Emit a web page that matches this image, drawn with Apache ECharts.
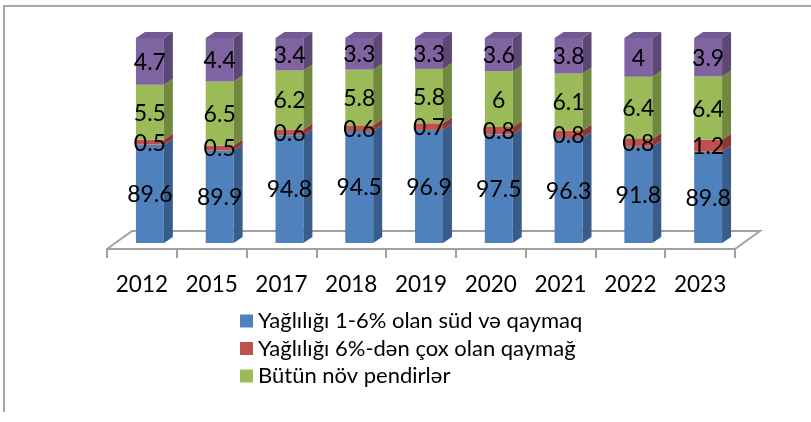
<!DOCTYPE html>
<html>
<head>
<meta charset="utf-8">
<script src="https://cdn.jsdelivr.net/npm/echarts@6/dist/echarts.min.js"></script>
<style>
  html, body { margin: 0; padding: 0; background: #fff; }
  #main { width: 811px; height: 422px; }
</style>
</head>
<body>
<div id="main"></div>
<script>
/* kateqoriyalar və seriyalar */
var years = ['2012', '2015', '2017', '2018', '2019', '2020', '2021', '2022', '2023'];
var milkCream = [89.6, 89.9, 94.8, 94.5, 96.9, 97.5, 96.3, 91.8, 89.8];
var fatCream = [0.5, 0.5, 0.6, 0.6, 0.7, 0.8, 0.8, 0.8, 1.2];
var cheese = [5.5, 6.5, 6.2, 5.8, 5.8, 6, 6.1, 6.4, 6.4];
var other = [4.7, 4.4, 3.4, 3.3, 3.3, 3.6, 3.8, 4, 3.9];

var names = ['Yağlılığı 1-6% olan süd və qaymaq', 'Yağlılığı 6%-dən çox olan qaymağ', 'Bütün növ pendirlər', 'Digər'];
var groups = [milkCream, fatCream, cheese, other];
var colors = [
  { front: '#4F81BD', side: '#385D8A', top: '#4A76AC' },
  { front: '#C0504D', side: '#8C3836', top: '#AE4744' },
  { front: '#9BBB59', side: '#71893F', top: '#8DAA50' },
  { front: '#8064A2', side: '#5C4776', top: '#735A92' }
];
var yMin = 79.5;

// 100% yığılmış sütun: hər il üçün payları hesablayırıq
var stacked = groups.map(function () { return []; });
years.forEach(function (y, i) {
  var total = 0;
  groups.forEach(function (g) { total += g[i]; });
  var acc = 0;
  groups.forEach(function (g, s) {
    var lo = acc / total * 100;
    acc += g[i];
    stacked[s].push([i, lo, acc / total * 100, g[i]]);
  });
});

function barRender(c, isTop) {
  return function (params, api) {
    var lo = api.coord([api.value(0), Math.max(api.value(1), yMin)]);
    var hi = api.coord([api.value(0), api.value(2)]);
    var w = api.size([1, 0])[0] * 0.4;
    var x = lo[0] - w / 2;
    var dx = 9, dy = -6;
    var children = [
      { type: 'rect', shape: { x: x, y: hi[1], width: w, height: lo[1] - hi[1] }, style: { fill: c.front } },
      { type: 'polygon', shape: { points: [[x + w, hi[1]], [x + w + dx, hi[1] + dy], [x + w + dx, lo[1] + dy], [x + w, lo[1]]] }, style: { fill: c.side } }
    ];
    if (isTop) {
      children.push({ type: 'polygon', shape: { points: [[x, hi[1]], [x + dx, hi[1] + dy], [x + w + dx, hi[1] + dy], [x + w, hi[1]]] }, style: { fill: c.top } });
    }
    children.push({
      type: 'text', z2: 100,
      style: { text: String(api.value(3)), x: lo[0], y: (lo[1] + hi[1]) / 2 + 1, align: 'center', verticalAlign: 'middle', font: '23px Lato', fill: '#000' }
    });
    return { type: 'group', children: children };
  };
}

var series = [{
  /* döşəmə */
  type: 'custom', xAxisIndex: 0, yAxisIndex: 0, silent: true, z: 1,
  data: [[0, 90]],
  renderItem: function (params, api) {
    var cs = params.coordSys;
    var L = cs.x, R = cs.x + cs.width, B = cs.y + cs.height;
    return {
      type: 'polyline',
      shape: { points: [[L - 8, B + 6], [L + 17, B - 12], [R + 17, B - 12], [R - 8, B + 6]] },
      style: { stroke: '#A0A0A0', lineWidth: 2, fill: null }
    };
  }
}];

stacked.forEach(function (d, s) {
  series.push({
    name: names[s],
    type: 'custom',
    xAxisIndex: 0, yAxisIndex: 0,
    z: 2,
    itemStyle: { color: colors[s].front },
    encode: { x: 0, y: [1, 2] },
    data: d,
    renderItem: barRender(colors[s], s === stacked.length - 1)
  });
});

var myChart = echarts.init(document.getElementById('main'));
var option = {
  animation: false,
  backgroundColor: '#fff',
  graphic: [{
    type: 'polyline', silent: true,
    shape: { points: [[4, 412], [4, 6], [811, 6]] },
    style: { stroke: '#A6A6A6', lineWidth: 2, fill: null }
  }],
  legend: {
    orient: 'vertical',
    left: 235, top: 305,
    itemWidth: 13, itemHeight: 13, itemGap: 5.5,
    icon: 'rect',
    data: names.slice(0, 3),
    textStyle: { fontFamily: 'Lato', fontSize: 22, color: '#000' }
  },
  grid: [
    { left: 115, right: 68, top: 38, bottom: 179 },
    { left: 107, right: 76, top: 44, bottom: 173 }
  ],
  xAxis: [
    { type: 'category', gridIndex: 0, data: years, show: false },
    {
      type: 'category', gridIndex: 1, data: years,
      axisLine: { lineStyle: { color: '#A0A0A0', width: 2 } },
      axisTick: { show: true, length: 9, lineStyle: { color: '#A0A0A0', width: 2 } },
      axisLabel: { interval: 0, margin: 24, fontFamily: 'Lato', fontSize: 22.5, color: '#000' }
    }
  ],
  yAxis: [
    { type: 'value', gridIndex: 0, min: yMin, max: 100, show: false },
    { type: 'value', gridIndex: 1, min: 0, max: 1, show: false }
  ],
  series: series
};
myChart.setOption(option);
</script>
</body>
</html>
